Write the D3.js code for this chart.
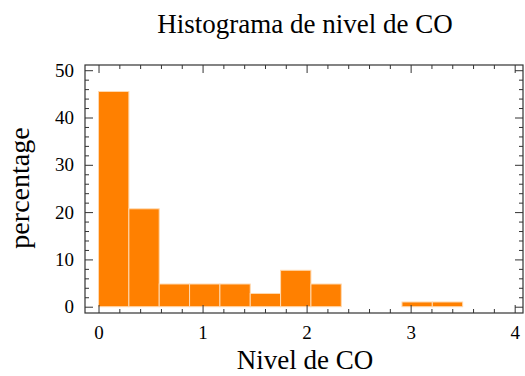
<!DOCTYPE html>
<html>
<head>
<meta charset="utf-8">
<script src="https://cdn.jsdelivr.net/npm/d3@7"></script>
<style>
  html, body { margin: 0; padding: 0; background: #fff; }
  svg { display: block; }
  text { font-family: "Liberation Serif", "DejaVu Serif", serif; fill: #000; }
</style>
</head>
<body>
<div id="chart"></div>
<script>
// Histogram bins of CO level (bin edges) and the percentage in each bin
const binEdges = [0, 0.2917, 0.5833, 0.875, 1.1667, 1.4583, 1.75, 2.0417, 2.3333, 2.625, 2.9167, 3.2083, 3.5];
const percentages = [45.5, 20.7, 4.8, 4.8, 4.8, 2.8, 7.7, 4.8, 0, 0, 1.0, 1.0];
const xTicks = [0, 1, 2, 3, 4];
const yTicks = [0, 10, 20, 30, 40, 50];
const titleText = "Histograma de nivel de CO";
const xLabel = "Nivel de CO";
const yLabel = "percentage";

const W = 525, H = 376;
const frame = { left: 85, right: 523, top: 65, bottom: 313 };

const svg = d3.select("#chart").append("svg")
  .attr("width", W).attr("height", H);

const x = d3.scaleLinear().domain([-0.13, 4.08]).range([frame.left, frame.right]);
const y = d3.scaleLinear().domain([-1.33, 51.1]).range([frame.bottom, frame.top]);

const bins = percentages.map((v, i) => ({ x0: binEdges[i], x1: binEdges[i + 1], v }));

// bars
svg.append("g").selectAll("rect")
  .data(bins.filter(d => d.v > 0))
  .join("rect")
  .attr("x", d => x(d.x0))
  .attr("width", d => x(d.x1) - x(d.x0))
  .attr("y", d => y(d.v))
  .attr("height", d => y(0) - y(d.v))
  .attr("fill", "#ff8000")
  .attr("stroke", "#ffd9b0")
  .attr("stroke-width", 1);

// frame
svg.append("rect")
  .attr("x", frame.left).attr("y", frame.top)
  .attr("width", frame.right - frame.left).attr("height", frame.bottom - frame.top)
  .attr("fill", "none").attr("stroke", "#333").attr("stroke-width", 1.2);

const major = 8, minor = 4;
const xMinor = d3.range(0, 4.0001, 0.2).filter(v => Math.abs(v - Math.round(v)) > 1e-6);
const yMinor = d3.range(0, 51, 2).filter(v => v % 10 !== 0);

// inward-facing ticks on all four sides, built from d3 axes
function tickAxis(axisGen, transform) {
  const g = svg.append("g").attr("transform", transform).call(axisGen);
  g.select(".domain").remove();
  g.attr("font-family", null).attr("font-size", 19);
  g.selectAll("line").attr("stroke", "#333").attr("stroke-width", 1);
  return g;
}

// bottom
tickAxis(d3.axisBottom(x).tickValues(xTicks).tickSizeInner(-major).tickSizeOuter(0).tickFormat(d3.format("d")).tickPadding(13),
  `translate(0,${frame.bottom})`);
tickAxis(d3.axisBottom(x).tickValues(xMinor).tickSize(-minor).tickFormat(""), `translate(0,${frame.bottom})`);
// top
tickAxis(d3.axisTop(x).tickValues(xTicks).tickSize(-major).tickFormat(""), `translate(0,${frame.top})`);
tickAxis(d3.axisTop(x).tickValues(xMinor).tickSize(-minor).tickFormat(""), `translate(0,${frame.top})`);
// left
tickAxis(d3.axisLeft(y).tickValues(yTicks).tickSizeInner(-major).tickSizeOuter(0).tickFormat(d3.format("d")).tickPadding(11),
  `translate(${frame.left},0)`);
tickAxis(d3.axisLeft(y).tickValues(yMinor).tickSize(-minor).tickFormat(""), `translate(${frame.left},0)`);
// right
tickAxis(d3.axisRight(y).tickValues(yTicks).tickSize(-major).tickFormat(""), `translate(${frame.right},0)`);
tickAxis(d3.axisRight(y).tickValues(yMinor).tickSize(-minor).tickFormat(""), `translate(${frame.right},0)`);

svg.selectAll(".tick text").attr("fill", "#000");

// titles
svg.append("text")
  .attr("x", 305).attr("y", 33)
  .attr("text-anchor", "middle")
  .attr("font-size", 27)
  .text(titleText);

svg.append("text")
  .attr("x", 305).attr("y", 369)
  .attr("text-anchor", "middle")
  .attr("font-size", 27)
  .text(xLabel);

svg.append("text")
  .attr("transform", "translate(29,188) rotate(-90)")
  .attr("text-anchor", "middle")
  .attr("font-size", 28)
  .text(yLabel);
</script>
</body>
</html>
